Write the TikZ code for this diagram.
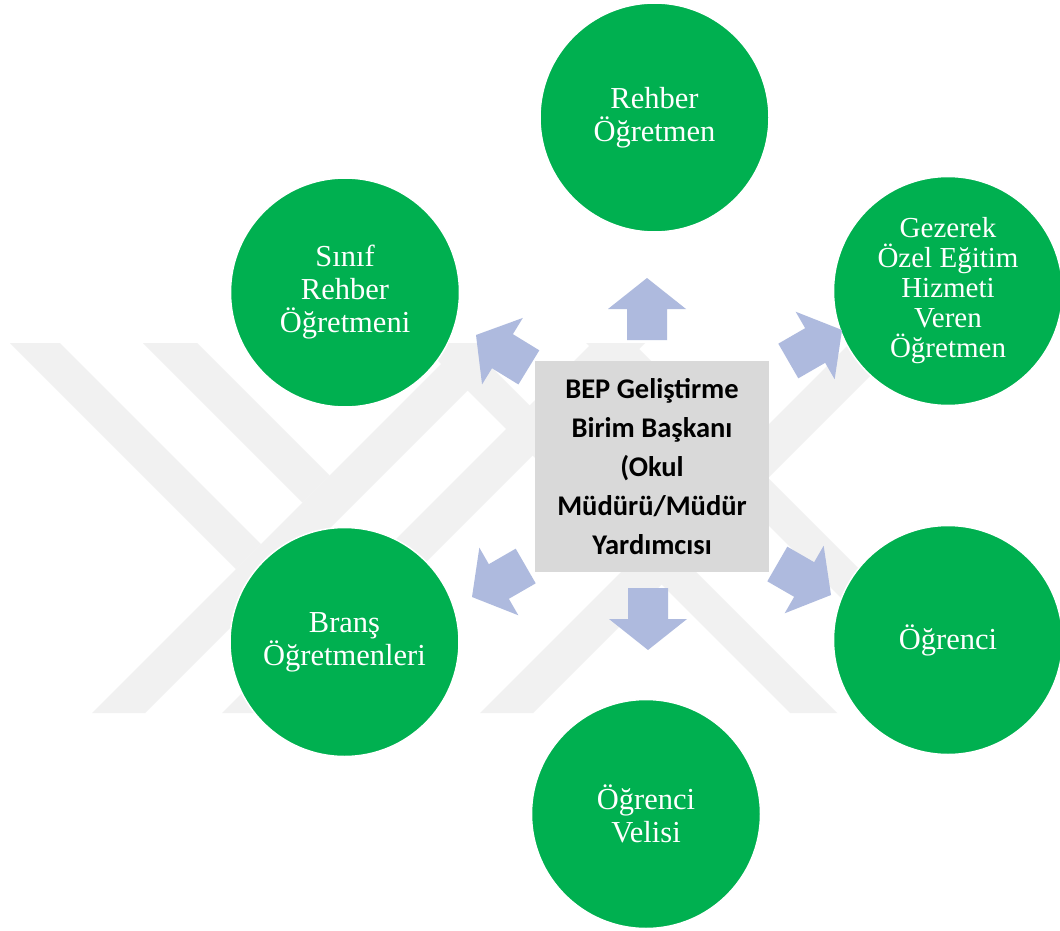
\documentclass[tikz,border=0pt]{standalone}
\usepackage{fontspec}
\setmainfont{Liberation Serif}
\newfontfamily\boxfont{Carlito}
\definecolor{mygreen}{RGB}{0,176,80}
\definecolor{boxgray}{RGB}{217,217,217}
\definecolor{arrowfill}{RGB}{174,186,222}
\definecolor{wmgray}{RGB}{241,241,241}
\begin{document}
\begin{tikzpicture}[x=1pt,y=-1pt,
  circ/.style={circle, fill=mygreen, draw=white, line width=1.5pt, minimum size=229pt, inner sep=0pt, align=center, text=white, font=\fontsize{30.5}{33}\selectfont},
  cbox/.style={rectangle, fill=boxgray, minimum width=234pt, minimum height=211pt, inner sep=0pt, align=center, font=\boxfont\bfseries\fontsize{28.5}{39}\selectfont},
  wm/.style={fill=wmgray},
  barrow/.pic={\fill[arrowfill] (0,0) -- (-31,39) -- (-31,20) -- (-62,20) -- (-62,-20) -- (-31,-20) -- (-31,-39) -- cycle;}
]
\useasboundingbox (0,0) rectangle (1060,931);
\fill[white] (0,0) rectangle (1060,931);
% watermark
\begin{scope}
\clip (0,343) rectangle (1060,713);
\fill[wm] (10,343) -- (60,343) -- (261,544) -- (236,569) -- cycle;
\fill[wm] (143,343) -- (197,343) -- (329.5,475.5) -- (302.5,502.5) -- cycle;
\fill[wm] (462,343) -- (515,343) -- (145,713) -- (92,713) -- cycle;
\fill[wm] (592,343) -- (645,343) -- (275,713) -- (222,713) -- cycle;
\fill[wm] (850,343) -- (903,343) -- (533,713) -- (480,713) -- cycle;
\fill[wm] (420,343) -- (467,343) -- (837,713) -- (790,713) -- cycle;
\fill[wm] (586,343) -- (633,343) -- (1003,713) -- (956,713) -- cycle;
\end{scope}
% nodes
\node[circ] (rehber) at (654.5,117.5) {Rehber\\Öğretmen};
\node[circ] (sinif) at (345,292.5) {Sınıf\\Rehber\\Öğretmeni};
\node[circ, font=\fontsize{29}{30}\selectfont] (gezerek) at (948,291) {Gezerek\\Özel Eğitim\\Hizmeti\\Veren\\Öğretmen};
\node[circ] (brans) at (344.5,642) {Branş\\Öğretmenleri};
\node[circ] (ogrenci) at (948,640) {Öğrenci};
\node[circ] (veli) at (646,814) {Öğrenci\\Velisi};
\node[cbox] (bep) at (652,466.5) {BEP Geliştirme\\Birim Başkanı\\(Okul\\Müdürü/Müdür\\Yardımcısı};
% arrows
\coordinate (tU) at (647,278);
\coordinate (tUR) at (842,330);
\coordinate (tDR) at (831,595);
\coordinate (tD) at (648,650);
\coordinate (tDL) at (472,597);
\coordinate (tUL) at (476,335);
\path (tU) pic[rotate=90] {barrow};
\path (tUR) pic[rotate=30] {barrow};
\path (tDR) pic[rotate=-30] {barrow};
\path (tD) pic[rotate=-90] {barrow};
\path (tDL) pic[rotate=210] {barrow};
\path (tUL) pic[rotate=148.5] {barrow};
\end{tikzpicture}
\end{document}
